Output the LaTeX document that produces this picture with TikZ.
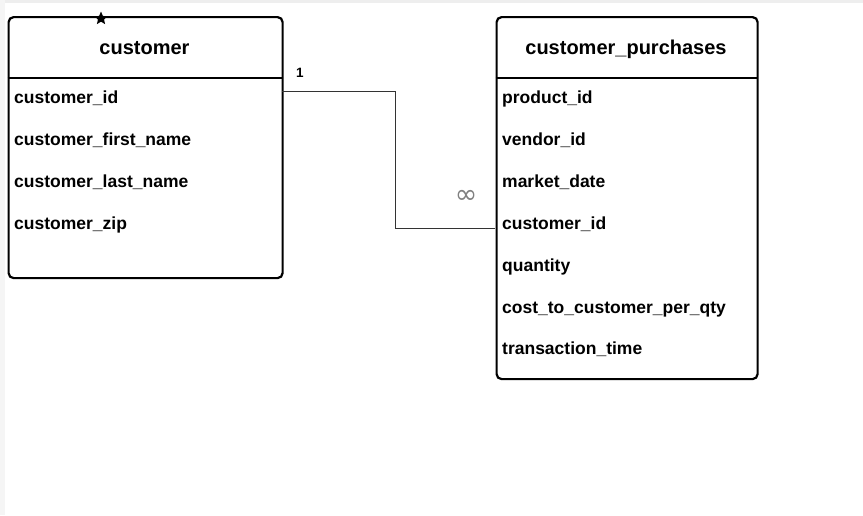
\documentclass[tikz,border=0pt]{standalone}
\usepackage{fontspec}
\setmainfont{Liberation Sans}
\newfontfamily\dejavu{DejaVu Sans}
\usetikzlibrary{shapes.geometric}
\definecolor{edgegray}{RGB}{51,51,51}
\definecolor{infgray}{RGB}{128,128,128}
\definecolor{framegray}{RGB}{238,238,238}
\tikzset{
  entity/.style={draw=black, line width=2.2pt, rounded corners=5pt, fill=white, anchor=north west, inner sep=0pt},
  sepline/.style={draw=black, line width=2.2pt},
  hdr/.style={font=\fontsize{20}{24}\selectfont\bfseries, anchor=base, inner sep=0pt},
  field/.style={font=\fontsize{17.5}{21}\selectfont\bfseries, anchor=base west, inner sep=0pt},
  conn/.style={draw=edgegray, line width=1pt},
  cardone/.style={font=\fontsize{13.5}{16}\selectfont\bfseries, anchor=base, inner sep=0pt},
  cardmany/.style={font=\dejavu\fontsize{27}{30}\selectfont, text=infgray, inner sep=0pt},
}
\begin{document}
\begin{tikzpicture}[x=1pt,y=-1pt]
\useasboundingbox (0,0) rectangle (863,515);
\fill[white] (0,0) rectangle (863,515);
\fill[framegray] (0,0) rectangle (863,2.5);
\fill[framegray!60] (0,0) rectangle (5,515);

% customer entity
\node[entity, minimum width=274pt, minimum height=261pt] (cust) at (7.5,16) {};
\coordinate (custsepL) at (7.5,78);
\coordinate (custsepR) at (281.5,78);
\draw[sepline] (custsepL) -- (custsepR);
\node[hdr] (custh) at (144.5,54) {customer};
\node[field] (c1) at (14,103) {customer\_id};
\node[field] (c2) at (14,145) {customer\_first\_name};
\node[field] (c3) at (14,187) {customer\_last\_name};
\node[field] (c4) at (14,229) {customer\_zip};
\node[star, star points=5, star point ratio=2.2, fill=black, inner sep=0pt, minimum size=14pt] (mark) at (101,18.5) {};

% customer_purchases entity
\node[entity, minimum width=261pt, minimum height=362pt] (purch) at (495.5,16) {};
\coordinate (purchsepL) at (495.5,78);
\coordinate (purchsepR) at (756.5,78);
\draw[sepline] (purchsepL) -- (purchsepR);
\node[hdr] (purchh) at (626,54) {customer\_purchases};
\node[field] (p1) at (502,103) {product\_id};
\node[field] (p2) at (502,145) {vendor\_id};
\node[field] (p3) at (502,187) {market\_date};
\node[field] (p4) at (502,229) {customer\_id};
\node[field] (p5) at (502,271) {quantity};
\node[field] (p6) at (502,313) {cost\_to\_customer\_per\_qty};
\node[field] (p7) at (502,354) {transaction\_time};

% relationship
\coordinate (relA) at (282,91);
\coordinate (relB) at (495,228.5);
\coordinate (relMid) at (395,160);
\draw[conn] (relA) -- (relMid |- relA) -- (relMid |- relB) -- (relB);
\node[cardone] (one) at (300,77) {1};
\node[cardmany] (many) at (466,197) {∞};
\end{tikzpicture}
\end{document}
